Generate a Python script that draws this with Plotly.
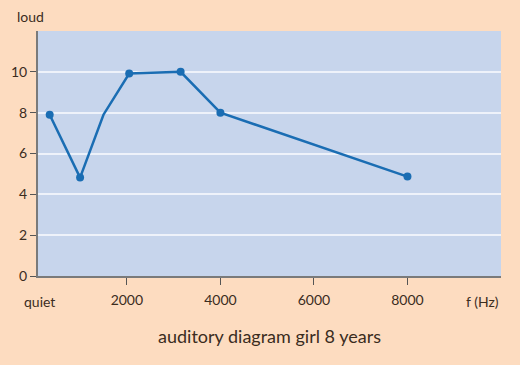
import plotly.graph_objects as go

freq = [350, 1000, 1500, 2050, 3150, 4000, 8000]
loud = [7.9, 4.82, 7.9, 9.92, 10.0, 8.0, 4.87]
marker_on = [True, True, False, True, True, True, True]
x_ticks = [2000, 4000, 6000, 8000]
y_ticks = [0, 2, 4, 6, 8, 10]
title = "auditory diagram girl 8 years"

BLUE = "#1a6db3"
TXT = "#3b2c1e"
FONT = "Lato"

fig = go.Figure()
fig.add_trace(go.Scatter(
    x=freq, y=loud, mode="lines",
    line=dict(color=BLUE, width=2.5), hoverinfo="skip", showlegend=False))
fig.add_trace(go.Scatter(
    x=[f for f, m in zip(freq, marker_on) if m],
    y=[v for v, m in zip(loud, marker_on) if m],
    mode="markers", marker=dict(color=BLUE, size=8), showlegend=False))

fig.update_layout(
    width=520, height=365,
    margin=dict(l=38, r=19, t=31, b=89),
    paper_bgcolor="#fddcc0",
    plot_bgcolor="#c7d5ec",
    font=dict(family=FONT, color=TXT, size=14),
    xaxis=dict(range=[100, 10000], tickvals=x_ticks, ticktext=[str(t) for t in x_ticks],
               showgrid=False, zeroline=False, showline=True, linecolor="#7a7a7a", linewidth=2,
               ticks="outside", ticklen=7, tickcolor="#555", tickwidth=1,
               ticklabelstandoff=3,
               tickfont=dict(size=14, color=TXT)),
    yaxis=dict(range=[0, 12], tickvals=y_ticks,
               showgrid=True, gridcolor="#eef2fa", gridwidth=1.5, zeroline=False,
               showline=True, linecolor="#7a7a7a", linewidth=2,
               ticks="outside", ticklen=6, tickcolor="#555", tickwidth=1,
               tickfont=dict(size=14, color=TXT)),
    annotations=[
        dict(text="loud", xref="paper", yref="paper", x=-0.05, y=1.0, yshift=15,
             xanchor="left", yanchor="middle", showarrow=False, font=dict(size=14, color=TXT)),
        dict(text="quiet", xref="paper", yref="paper", x=-0.035, y=0, yshift=-25,
             xanchor="left", yanchor="middle", showarrow=False, font=dict(size=14, color=TXT)),
        dict(text="f (Hz)", xref="paper", yref="paper", x=1.0, y=0, yshift=-25,
             xanchor="right", yanchor="middle", showarrow=False, font=dict(size=14, color=TXT)),
        dict(text=title, xref="paper", yref="paper", x=0.5, y=0, yshift=-60,
             xanchor="center", yanchor="middle", showarrow=False, font=dict(size=18, color=TXT)),
    ],
)

fig.write_html("out.html", config={"displayModeBar": False},
               post_script="document.body.style.margin='0';")
